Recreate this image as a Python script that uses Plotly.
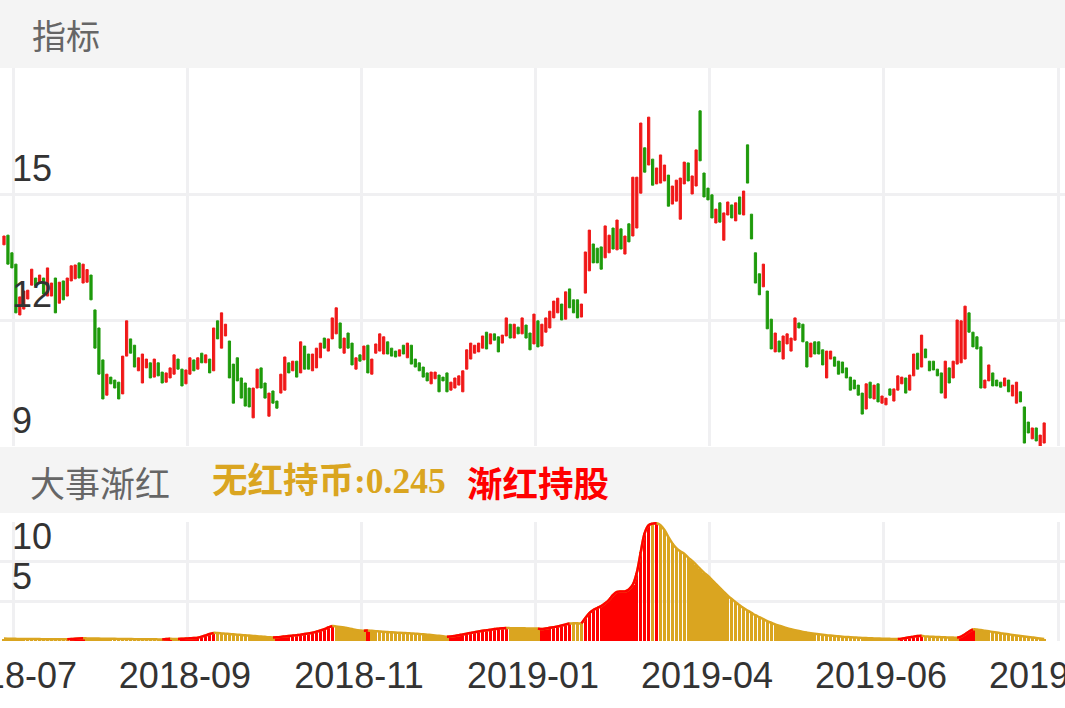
import plotly.graph_objects as go

# 日K数据（开盘/收盘），按交易日顺序
open_ = [
    13.79, 14.02, 13.60, 13.33, 12.12, 12.26, 12.50, 12.83, 13.00, 12.88,
    13.00, 12.57, 12.57, 13.00, 12.40, 12.93, 12.57, 12.93, 12.98, 13.36,
    12.88, 12.90, 13.07, 12.24, 11.81, 11.05, 10.21, 10.64, 10.57, 10.52,
    10.24, 11.14, 11.55, 11.40, 10.79, 10.50, 10.86, 10.98, 10.64, 10.98,
    10.76, 10.52, 10.62, 10.71, 11.07, 10.83, 10.48, 10.71, 11.05, 10.83,
    11.21, 10.98, 11.07, 10.79, 11.98, 11.33, 11.62, 11.50, 10.95, 11.10,
    10.62, 10.50, 10.38, 9.67, 10.38, 10.86, 10.50, 9.71, 10.31, 10.07,
    10.26, 10.33, 10.98, 10.79, 11.02, 10.74, 11.38, 11.19, 10.79, 10.86,
    11.10, 11.57, 11.26, 11.55, 11.67, 11.93, 11.21, 11.69, 11.45, 10.83,
    11.17, 11.05, 11.40, 10.71, 11.21, 11.26, 11.19, 11.48, 11.33, 11.26,
    11.14, 11.40, 11.10, 11.40, 11.07, 10.98, 10.88, 10.74, 10.48, 10.60,
    10.69, 10.64, 10.74, 10.33, 10.38, 10.45, 10.29, 10.83, 11.07, 11.21,
    11.24, 11.33, 11.71, 11.43, 11.67, 11.60, 11.45, 11.62, 11.90, 11.57,
    11.83, 11.67, 11.88, 11.69, 11.43, 11.98, 11.38, 11.71, 11.81, 12.05,
    12.17, 12.38, 12.02, 12.74, 12.48, 12.48, 12.07, 12.64, 13.17, 13.81,
    13.71, 13.74, 13.48, 13.60, 14.19, 13.67, 14.17, 13.57, 14.29, 14.00,
    14.19, 15.02, 16.10, 15.69, 15.83, 15.24, 15.26, 15.31, 15.45, 14.76,
    14.83, 14.40, 15.24, 15.74, 15.00, 15.19, 16.98, 15.50, 15.14, 14.98,
    14.31, 14.79, 13.90, 14.50, 14.74, 14.36, 14.93, 14.50, 16.17, 14.52,
    13.60, 13.10, 12.79, 12.69, 12.02, 11.24, 11.50, 11.07, 11.43, 11.26,
    11.52, 11.93, 11.90, 11.48, 11.12, 11.48, 11.48, 11.29, 10.62, 11.07,
    11.12, 11.02, 11.00, 10.86, 10.64, 10.57, 10.45, 10.26, 9.88, 10.52,
    10.12, 10.48, 10.02, 9.98, 10.36, 10.07, 10.33, 10.48, 10.62, 10.33,
    10.67, 11.21, 10.88, 11.31, 11.02, 11.02, 10.83, 10.74, 10.14, 10.86,
    10.62, 10.95, 10.98, 11.07, 12.17, 11.71, 11.60, 11.36, 10.38, 10.55,
    10.74, 10.57, 10.52, 10.43, 10.57, 10.19, 10.02, 10.29, 9.93, 9.57,
    9.17, 9.43, 8.98, 9.07,
]
close = [
    14.00, 13.33, 13.24, 12.17, 12.55, 12.69, 12.71, 13.21, 12.81, 13.07,
    12.62, 13.24, 12.88, 12.17, 12.90, 12.48, 13.00, 13.29, 13.31, 13.00,
    13.33, 13.20, 12.48, 11.33, 10.71, 10.12, 10.71, 10.48, 10.38, 10.12,
    11.14, 11.98, 11.21, 10.88, 11.10, 11.19, 11.07, 10.62, 11.07, 10.67,
    10.50, 10.74, 10.86, 11.17, 10.83, 10.43, 10.81, 11.10, 10.79, 11.10,
    10.98, 11.17, 10.74, 11.81, 11.55, 12.17, 11.90, 10.62, 10.02, 10.55,
    10.14, 9.95, 9.93, 10.38, 10.83, 10.38, 10.14, 10.26, 10.02, 9.90,
    10.71, 11.12, 10.74, 11.02, 10.64, 11.48, 10.83, 10.83, 11.19, 11.33,
    11.45, 11.33, 11.55, 12.05, 12.29, 11.33, 11.57, 11.33, 10.93, 11.10,
    11.02, 11.38, 10.74, 11.07, 11.43, 11.67, 11.60, 11.19, 11.14, 11.12,
    11.29, 11.19, 11.45, 10.95, 10.88, 10.79, 10.64, 10.55, 10.76, 10.76,
    10.29, 10.55, 10.29, 10.52, 10.62, 10.67, 10.79, 11.29, 11.45, 11.40,
    11.45, 11.62, 11.31, 11.67, 11.52, 11.24, 11.64, 12.05, 11.57, 11.90,
    11.67, 12.05, 11.57, 11.29, 12.14, 11.36, 11.90, 12.05, 12.21, 12.45,
    12.52, 12.00, 12.67, 12.29, 12.17, 12.05, 12.38, 13.62, 14.14, 13.36,
    13.36, 13.21, 14.24, 14.02, 13.69, 14.38, 13.69, 14.00, 13.86, 15.40,
    15.40, 16.69, 15.52, 16.83, 15.21, 15.62, 15.93, 15.69, 14.71, 15.19,
    15.33, 15.38, 15.76, 15.31, 15.43, 16.05, 15.79, 14.93, 14.86, 14.43,
    14.64, 14.33, 14.55, 14.81, 14.43, 14.79, 14.52, 15.07, 15.26, 13.93,
    12.88, 12.60, 13.33, 11.79, 11.31, 11.69, 11.24, 11.62, 11.67, 11.57,
    12.05, 11.81, 11.48, 10.88, 11.45, 11.19, 11.19, 10.93, 11.26, 11.26,
    10.90, 10.71, 10.74, 10.62, 10.33, 10.36, 10.21, 9.76, 10.48, 10.14,
    10.45, 10.05, 10.19, 10.14, 10.21, 10.36, 10.67, 10.64, 10.26, 10.69,
    11.19, 10.83, 11.64, 11.10, 10.79, 10.81, 10.67, 10.26, 11.02, 10.50,
    11.02, 12.00, 11.98, 12.33, 11.71, 11.36, 11.31, 10.38, 10.57, 10.93,
    10.43, 10.43, 10.40, 10.62, 10.29, 10.45, 10.52, 10.05, 9.07, 9.31,
    9.43, 9.12, 9.26, 9.55,
]
# 影线看不出来，用实体上下沿
high = [max(o, c) for o, c in zip(open_, close)]
low = [min(o, c) for o, c in zip(open_, close)]

# 大事渐红指标值
hong = [
    0.30, 0.29, 0.28, 0.27, 0.26, 0.26, 0.25, 0.25, 0.24, 0.24,
    0.23, 0.23, 0.22, 0.22, 0.22, 0.21, 0.21, 0.25, 0.29, 0.32,
    0.34, 0.33, 0.32, 0.31, 0.30, 0.29, 0.28, 0.27, 0.27, 0.26,
    0.25, 0.25, 0.24, 0.23, 0.23, 0.22, 0.22, 0.21, 0.21, 0.20,
    0.20, 0.24, 0.27, 0.26, 0.25, 0.28, 0.31, 0.34, 0.37, 0.42,
    0.55, 0.70, 0.88, 1.02, 1.00, 0.96, 0.92, 0.88, 0.84, 0.80,
    0.76, 0.72, 0.68, 0.64, 0.60, 0.56, 0.52, 0.48, 0.45, 0.48,
    0.52, 0.57, 0.62, 0.68, 0.74, 0.80, 0.88, 0.96, 1.05, 1.18,
    1.32, 1.48, 1.70, 1.88, 1.84, 1.78, 1.70, 1.60, 1.50, 1.40,
    1.34, 1.30, 1.32, 1.28, 1.24, 1.20, 1.16, 1.13, 1.10, 1.07,
    1.04, 1.01, 0.98, 0.95, 0.92, 0.88, 0.85, 0.80, 0.75, 0.70,
    0.65, 0.60, 0.55, 0.58, 0.64, 0.72, 0.82, 0.92, 1.02, 1.12,
    1.20, 1.28, 1.36, 1.43, 1.50, 1.55, 1.60, 1.63, 1.62, 1.61,
    1.60, 1.60, 1.59, 1.58, 1.57, 1.56, 1.50, 1.58, 1.66, 1.75,
    1.84, 1.95, 2.08, 2.20, 2.25, 2.24, 2.22, 2.90, 3.50, 3.90,
    4.15, 4.40, 4.75, 5.20, 5.80, 6.20, 6.25, 6.25, 6.50, 7.10,
    8.60, 11.2, 13.6, 14.6, 14.8, 14.85, 14.6, 14.0, 13.1, 12.3,
    11.7, 11.3, 11.0, 10.5, 10.1, 9.6, 9.1, 8.6, 8.2, 7.7,
    7.2, 6.7, 6.2, 5.7, 5.3, 4.9, 4.5, 4.15, 3.85, 3.55,
    3.25, 3.0, 2.75, 2.5, 2.3, 2.1, 1.93, 1.77, 1.62, 1.48,
    1.36, 1.25, 1.15, 1.06, 0.98, 0.91, 0.85, 0.79, 0.73, 0.68,
    0.63, 0.59, 0.55, 0.51, 0.48, 0.45, 0.42, 0.39, 0.37, 0.35,
    0.33, 0.31, 0.29, 0.28, 0.27, 0.26, 0.26, 0.30, 0.38, 0.46,
    0.55, 0.62, 0.66, 0.58, 0.55, 0.52, 0.50, 0.48, 0.46, 0.44,
    0.43, 0.42, 0.55, 0.85, 1.20, 1.45, 1.45, 1.38, 1.30, 1.22,
    1.14, 1.06, 0.98, 0.91, 0.84, 0.77, 0.70, 0.63, 0.57, 0.51,
    0.45, 0.39, 0.32, 0.245,
]
# 信号：R=渐红持股，G=无红持币（游程）
signal_runs = [
    ("G", 17), ("R", 4), ("G", 20), ("R", 2), ("G", 2), ("R", 9), ("G", 15),
    ("R", 15), ("G", 8), ("R", 1), ("G", 20), ("R", 15), ("G", 8), ("R", 8),
    ("G", 3), ("R", 17), ("G", 1), ("R", 1), ("G", 61), ("R", 6), ("G", 9),
    ("R", 4), ("G", 18),
]
signal = "".join(s * n for s, n in signal_runs)

tick_labels = ["2018-07", "2018-09", "2018-11", "2019-01", "2019-04", "2019-06", "2019-08"]
label_every = 44

RED = "#F01818"
GREEN = "#1E9A0B"
GOLD = "#DAA520"
GRID = "#F0F0F2"

x = list(range(len(close)))
tickvals = [2.5 + label_every * k for k in range(len(tick_labels))]

bar_colors = ["#FF0000" if s == "R" else GOLD for s in signal]
red_line = [v if (s == "R" or (i + 1 < len(signal) and signal[i + 1] == "R")) else None
            for i, (v, s) in enumerate(zip(hong, signal))]

fig = go.Figure()
fig.add_trace(go.Candlestick(
    x=x, open=open_, high=high, low=low, close=close,
    increasing=dict(line=dict(color=RED, width=1), fillcolor=RED),
    decreasing=dict(line=dict(color=GREEN, width=1), fillcolor=GREEN),
    whiskerwidth=0, hoverinfo="skip", xaxis="x", yaxis="y",
))
fig.add_trace(go.Bar(
    x=x, y=hong, marker=dict(color=bar_colors, line=dict(width=0)),
    width=0.86, xaxis="x2", yaxis="y2", hoverinfo="skip",
))
fig.add_trace(go.Scatter(
    x=x, y=hong, mode="lines", line=dict(color=GOLD, width=2.5, shape="spline"),
    xaxis="x2", yaxis="y2", hoverinfo="skip",
))
fig.add_trace(go.Scatter(
    x=x, y=red_line, mode="lines", line=dict(color="#FF0000", width=2.5, shape="spline"),
    xaxis="x2", yaxis="y2", hoverinfo="skip",
))

H_PLOT = 641.0


def py(px):
    return (H_PLOT - px) / H_PLOT


xr = [-1.01, 268.27]
tick_font = dict(family="Liberation Sans, Arial, sans-serif", size=36, color="#333333")
grid = dict(showgrid=True, gridcolor=GRID, gridwidth=3, zeroline=False, automargin=False,
            fixedrange=True)
fig.update_layout(
    width=1065, height=708,
    margin=dict(l=0, r=0, t=0, b=67, autoexpand=False),
    paper_bgcolor="white", plot_bgcolor="white",
    showlegend=False, bargap=0, boxgap=0.2,
    xaxis=dict(domain=[0, 1], anchor="y", range=xr, tickmode="array", tickvals=tickvals,
               showticklabels=False, rangeslider=dict(visible=False), **grid),
    yaxis=dict(domain=[py(446), py(68)], range=[9, 18], tickmode="array",
               tickvals=[9, 12, 15, 18], ticktext=["9", "12", "15", ""],
               ticklabelposition="inside top", ticklabelstandoff=9, tickfont=tick_font,
               ticklabeloverflow="allow", **grid),
    xaxis2=dict(domain=[0, 1], anchor="y2", range=xr, tickmode="array", tickvals=tickvals,
                ticktext=tick_labels, tickfont=tick_font, ticks="", ticklabelstandoff=10,
                ticklabelshift=-3, ticklabeloverflow="allow", **grid),
    yaxis2=dict(domain=[0, py(522)], range=[0, 15], tickmode="array",
                tickvals=[0, 5, 10, 15], ticktext=["", "5", "10", ""],
                ticklabelposition="inside top", ticklabelstandoff=9, tickfont=tick_font,
                ticklabeloverflow="allow", **grid),
    shapes=[
        dict(type="rect", xref="paper", yref="paper", x0=0, x1=1, y0=py(68), y1=1,
             fillcolor="#F4F4F4", line=dict(width=0), layer="below"),
        dict(type="rect", xref="paper", yref="paper", x0=0, x1=1, y0=py(513), y1=py(447),
             fillcolor="#F4F4F4", line=dict(width=0), layer="below"),
    ],
)

cjk = "Noto Sans CJK SC, sans-serif"
fig.add_annotation(text="指标", x=30 / 1065, y=py(34), xref="paper", yref="paper",
                   xanchor="left", yanchor="middle", showarrow=False,
                   font=dict(family=cjk, size=34, color="#666666"))
fig.add_annotation(text="大事渐红", x=28 / 1065, y=py(481), xref="paper", yref="paper",
                   xanchor="left", yanchor="middle", showarrow=False,
                   font=dict(family=cjk, size=35, color="#666666"))
fig.add_annotation(text="<b>无红持币:0.245</b>", x=210 / 1065, y=py(481), xref="paper", yref="paper",
                   xanchor="left", yanchor="middle", showarrow=False,
                   font=dict(family="Liberation Serif, Noto Sans CJK SC, serif", size=35.5, color=GOLD))
fig.add_annotation(text="<b>渐红持股</b>", x=465 / 1065, y=py(481), xref="paper", yref="paper",
                   xanchor="left", yanchor="middle", showarrow=False,
                   font=dict(family=cjk, size=35.5, color="#FF0000"))

# 去掉页面默认边距，让图贴齐窗口
fig.write_html("out.html", config={"displayModeBar": False},
               post_script="document.body.style.margin='0';")
